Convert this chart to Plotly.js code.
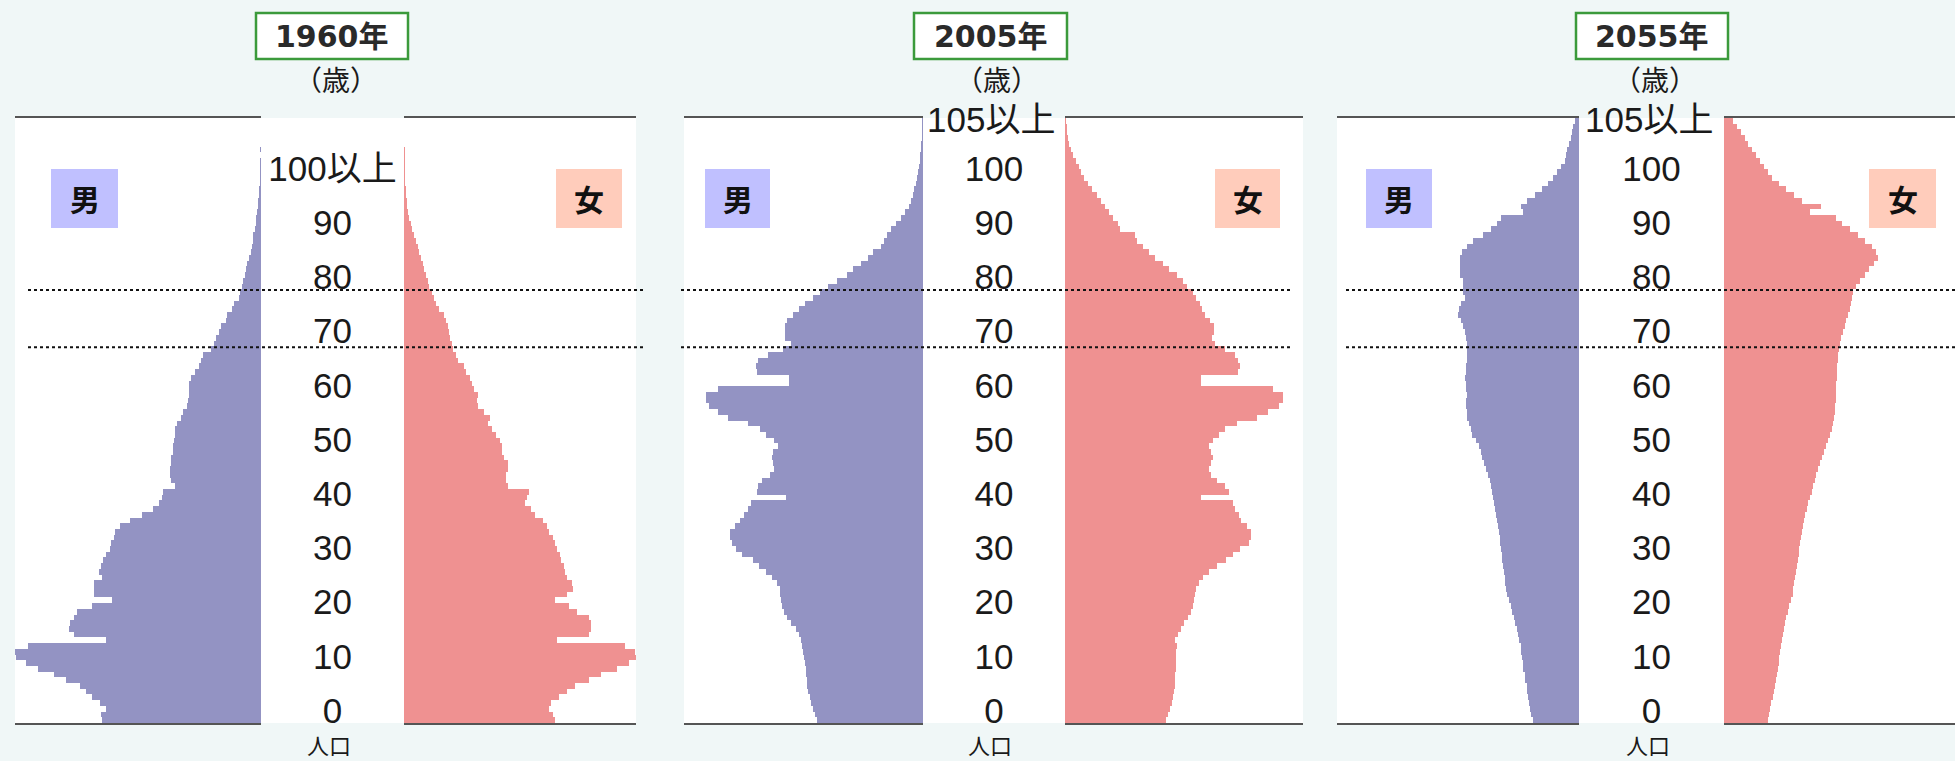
<!DOCTYPE html>
<html>
<head>
<meta charset="utf-8">
<script src="https://cdn.plot.ly/plotly-3.0.1.min.js"></script>
<style>
html,body{margin:0;padding:0;background:#f0f7f7;}
#chart{width:1955px;height:761px;}
</style>
</head>
<body>
<div id="chart"></div>
<script>
// ---------------- DATA (population by single year of age, thousands) ----------------
const years = ['1960年', '2005年', '2055年'];

const male1960 = [
  795, 800, 775, 805, 845, 875, 905, 975, 1035, 1115,
  1175, 1225, 1230, 1165, 775, 935, 960, 955, 935, 920,
  845, 745, 835, 835, 835, 795, 810, 800, 790, 775,
  755, 750, 735, 730, 705, 655, 595, 540, 510, 495,
  490, 430, 450, 455, 455, 450, 450, 440, 440, 435,
  430, 430, 420, 400, 390, 370, 365, 360, 360, 360,
  350, 330, 310, 300, 290, 250, 235, 225, 210, 200,
  175, 170, 145, 135, 110, 105, 95, 90, 80, 75,
  70, 60, 50, 45, 40, 40, 30, 25, 25, 20,
  15, 13, 10, 8, 7, 5, 4, 3, 3, 2, 3
];
const female1960 = [
  755, 745, 725, 735, 775, 815, 855, 925, 985, 1065,
  1125, 1160, 1155, 1105, 765, 925, 935, 935, 925, 865,
  825, 755, 815, 845, 840, 815, 805, 800, 785, 780,
  765, 755, 745, 725, 715, 695, 655, 635, 605, 615,
  625, 520, 510, 510, 520, 520, 500, 490, 490, 480,
  460, 440, 420, 430, 400, 370, 365, 370, 350, 340,
  330, 310, 300, 270, 260, 245, 240, 230, 225, 220,
  210, 200, 175, 160, 150, 140, 125, 120, 110, 100,
  95, 85, 75, 70, 60, 50, 40, 35, 25, 20,
  15, 13, 10, 8, 7, 6, 5, 4, 3, 3, 5
];
const male2005 = [
  530, 540, 550, 560, 565, 575, 580, 580, 585, 585,
  590, 595, 600, 605, 610, 620, 635, 660, 680, 695,
  705, 710, 715, 715, 730, 755, 785, 820, 850, 905,
  935, 955, 965, 965, 940, 915, 895, 875, 860, 685,
  830, 825, 805, 765, 745, 750, 755, 750, 725, 745,
  785, 815, 875, 975, 1025, 1070, 1085, 1085, 1025, 670,
  670, 830, 835, 825, 775, 700, 660, 690, 690, 690,
  680, 650, 620, 590, 550, 515, 475, 430, 380, 350,
  310, 275, 250, 210, 195, 180, 160, 135, 110, 90,
  70, 60, 50, 43, 35, 30, 25, 20, 15, 13,
  10, 8, 5, 4, 3, 3
];
const female2005 = [
  505, 515, 525, 535, 540, 545, 550, 550, 550, 555,
  555, 555, 555, 560, 550, 565, 580, 595, 615, 630,
  640, 645, 650, 655, 670, 690, 720, 760, 805, 840,
  875, 920, 930, 930, 910, 880, 870, 850, 840, 680,
  820, 800, 760, 730, 720, 730, 740, 730, 720, 740,
  770, 800, 860, 960, 1015, 1070, 1090, 1090, 1040, 680,
  680, 865, 875, 865, 850, 800, 750, 735, 745, 745,
  725, 700, 685, 675, 655, 640, 610, 590, 560, 520,
  490, 450, 420, 390, 360, 350, 275, 265, 240, 220,
  200, 180, 160, 135, 115, 95, 80, 70, 55, 40,
  30, 20, 15, 10, 8, 5
];
const male2055 = [
  230, 240, 245, 250, 255, 260, 260, 270, 270, 280,
  280, 285, 290, 290, 300, 305, 310, 320, 325, 335,
  340, 350, 360, 365, 370, 370, 375, 380, 385, 385,
  390, 395, 395, 400, 405, 410, 415, 420, 425, 430,
  435, 440, 445, 455, 465, 475, 485, 490, 500, 515,
  535, 540, 550, 560, 560, 565, 565, 560, 565, 565,
  570, 565, 565, 560, 560, 560, 560, 565, 570, 580,
  590, 605, 600, 590, 570, 580, 580, 580, 595, 595,
  595, 595, 585, 560, 530, 480, 440, 410, 390, 280,
  290, 260, 220, 185, 155, 130, 110, 90, 70, 65,
  60, 50, 40, 35, 30, 20
];
const female2055 = [
  220, 225, 230, 235, 245, 250, 255, 260, 265, 270,
  275, 275, 280, 285, 290, 295, 300, 305, 310, 320,
  325, 335, 345, 345, 350, 355, 360, 365, 370, 375,
  375, 380, 385, 390, 395, 400, 405, 415, 420, 430,
  440, 445, 455, 460, 470, 480, 490, 500, 510, 520,
  530, 540, 545, 550, 555, 555, 560, 560, 560, 560,
  565, 565, 565, 570, 570, 575, 580, 585, 595, 605,
  610, 620, 630, 635, 640, 645, 660, 680, 705, 725,
  750, 770, 760, 740, 705, 670, 630, 590, 560, 430,
  485, 390, 350, 310, 275, 240, 220, 200, 180, 160,
  140, 120, 105, 85, 65, 45
];

const tickValues = [0, 10, 20, 30, 40, 50, 60, 70, 80, 90, 100];
const tickText1960 = ['0', '10', '20', '30', '40', '50', '60', '70', '80', '90', '100以上'];
const tickTextLater = ['0', '10', '20', '30', '40', '50', '60', '70', '80', '90', '100'];
const topLabel = '105以上';
const refAges = [65, 75];
const ageUnit = '（歳）';
const popLabel = '人口';
const maleLabel = '男';
const femaleLabel = '女';

const maleSeries = [male1960, male2005, male2055];
const femaleSeries = [female1960, female2005, female2055];
const tickTexts = [tickText1960, tickTextLater, tickTextLater];

// ---------------- LAYOUT GEOMETRY (pixels) ----------------
const W = 1955, H = 761;
const PX_PER_K = 0.2;           // same population scale for every panel
const plotTop = 118, plotBottom = 723;
const labelZeroPx = 714, labelPxPerYear = 5.42;   // placement of the age labels in the centre column
const panels = [
  {male: [15, 261],   center: [261, 404],   female: [404, 636],   dots: [28, 644],   box: [256, 408], mBox: [51, 118],   fBox: [556, 622]},
  {male: [684, 923],  center: [923, 1065],  female: [1065, 1303], dots: [681, 1293], box: [914, 1067], mBox: [705, 770],  fBox: [1215, 1280]},
  {male: [1337, 1579],center: [1579, 1724], female: [1724, 1955], dots: [1346, 1955],box: [1576, 1728],mBox: [1366, 1432],fBox: [1869, 1936]}
];
const fx = v => v / W;
const fy = v => 1 - v / H;
const yDomain = [fy(plotBottom), fy(plotTop)];

const MALE_COLOR = '#9393c3';
const FEMALE_COLOR = '#ef9191';
const numFont = "'Liberation Sans', Arial, 'Noto Sans CJK JP', sans-serif";
const cjkFont = "'Noto Sans CJK JP', sans-serif";
const titleFont = "'DejaVu Sans', 'Noto Sans CJK JP', sans-serif";

const traces = [];
const layout = {
  width: W, height: H,
  margin: {l: 0, r: 0, t: 0, b: 0},
  paper_bgcolor: '#f0f7f7',
  plot_bgcolor: '#ffffff',
  showlegend: false,
  barmode: 'overlay',
  bargap: 0,
  shapes: [],
  annotations: [],
  yaxis: {domain: yDomain, range: [-0.5, 105.5], visible: false, fixedrange: true, anchor: 'x'},
  yaxis2: {domain: yDomain,
           range: [(labelZeroPx - plotBottom) / labelPxPerYear, (labelZeroPx - plotTop) / labelPxPerYear],
           visible: false, fixedrange: true, anchor: 'x2'}
};

panels.forEach((p, i) => {
  const mIdx = 3 * i + 1, cIdx = 3 * i + 2, fIdx = 3 * i + 3;
  const mKey = 'xaxis' + (mIdx === 1 ? '' : mIdx);
  const cKey = 'xaxis' + cIdx;
  const fKey = 'xaxis' + fIdx;
  const lineAxis = {
    showline: true, mirror: true, linecolor: '#555555', linewidth: 2,
    showgrid: false, zeroline: false, showticklabels: false, ticks: '', fixedrange: true
  };
  layout[mKey] = Object.assign({}, lineAxis, {
    domain: [fx(p.male[0]), fx(p.male[1])], anchor: 'y',
    range: [(p.male[1] - p.male[0]) / PX_PER_K, 0]
  });
  layout[fKey] = Object.assign({}, lineAxis, {
    domain: [fx(p.female[0]), fx(p.female[1])], anchor: 'y',
    range: [0, (p.female[1] - p.female[0]) / PX_PER_K]
  });
  layout[cKey] = {domain: [fx(p.center[0]), fx(p.center[1])], anchor: 'y2', range: [0, 1], visible: false, fixedrange: true};

  traces.push({
    type: 'bar', orientation: 'h', y: maleSeries[i].map((_, k) => k), x: maleSeries[i],
    xaxis: 'x' + (mIdx === 1 ? '' : mIdx), yaxis: 'y',
    marker: {color: MALE_COLOR, line: {width: 0}}, hoverinfo: 'skip'
  });
  traces.push({
    type: 'bar', orientation: 'h', y: femaleSeries[i].map((_, k) => k), x: femaleSeries[i],
    xaxis: 'x' + fIdx, yaxis: 'y',
    marker: {color: FEMALE_COLOR, line: {width: 0}}, hoverinfo: 'skip'
  });
  traces.push({
    type: 'scatter', mode: 'text',
    x: tickValues.map(() => 0.5), y: tickValues, text: tickTexts[i],
    xaxis: 'x' + cIdx, yaxis: 'y2',
    textposition: 'middle center', cliponaxis: false,
    textfont: {family: numFont, size: 35, color: '#1a1a1a'}, hoverinfo: 'skip'
  });

  // reference dotted lines (65 and 75 years)
  refAges.forEach(a => {
    layout.shapes.push({
      type: 'line', xref: 'paper', yref: 'y', layer: 'above',
      x0: fx(p.dots[0]), x1: fx(p.dots[1]), y0: a + 0.35, y1: a + 0.35,
      line: {color: '#111111', width: 2, dash: '3px,3px'}
    });
  });

  // year title box
  layout.shapes.push({
    type: 'rect', xref: 'paper', yref: 'paper', layer: 'above',
    x0: fx(p.box[0]), x1: fx(p.box[1]), y0: fy(59), y1: fy(13),
    fillcolor: '#ffffff', line: {color: '#3b9a3b', width: 2.5}
  });
  layout.annotations.push({
    xref: 'paper', yref: 'paper', x: fx((p.box[0] + p.box[1]) / 2), y: fy(36.5),
    text: '<b>' + years[i] + '</b>', showarrow: false, xanchor: 'center', yanchor: 'middle',
    font: {family: titleFont, size: 30, color: '#2a2a2a'}
  });
  // (歳)
  layout.annotations.push({
    xref: 'paper', yref: 'paper', x: fx((p.center[0] + p.center[1]) / 2 + 3), y: fy(79),
    text: ageUnit, showarrow: false, xanchor: 'center', yanchor: 'middle',
    font: {family: cjkFont, size: 28, color: '#1a1a1a'}
  });
  // 人口
  layout.annotations.push({
    xref: 'paper', yref: 'paper', x: fx((p.center[0] + p.center[1]) / 2 - 4), y: 0,
    text: popLabel, showarrow: false, xanchor: 'center', yanchor: 'bottom', borderpad: 0,
    font: {family: cjkFont, size: 22, color: '#1a1a1a'}
  });
  // 105以上 on top edge (2005, 2055)
  if (i > 0) {
    layout.annotations.push({
      xref: 'paper', yref: 'paper', x: fx((p.center[0] + p.center[1]) / 2 - 3), y: fy(120),
      text: topLabel, showarrow: false, xanchor: 'center', yanchor: 'middle',
      font: {family: numFont, size: 35, color: '#1a1a1a'}
    });
  }
  // 男 / 女 label boxes
  [[p.mBox, '#c0c0ff', maleLabel], [p.fBox, '#ffccbb', femaleLabel]].forEach(([b, col, txt]) => {
    layout.shapes.push({
      type: 'rect', xref: 'paper', yref: 'paper', layer: 'above',
      x0: fx(b[0]), x1: fx(b[1]), y0: fy(228), y1: fy(169),
      fillcolor: col, line: {width: 0}
    });
    layout.annotations.push({
      xref: 'paper', yref: 'paper', x: fx((b[0] + b[1]) / 2), y: fy(198),
      text: '<b>' + txt + '</b>', showarrow: false, xanchor: 'center', yanchor: 'middle',
      font: {family: cjkFont, size: 30, color: '#111111'}
    });
  });
});

Plotly.newPlot('chart', traces, layout, {staticPlot: true, displayModeBar: false});
</script>
</body>
</html>
